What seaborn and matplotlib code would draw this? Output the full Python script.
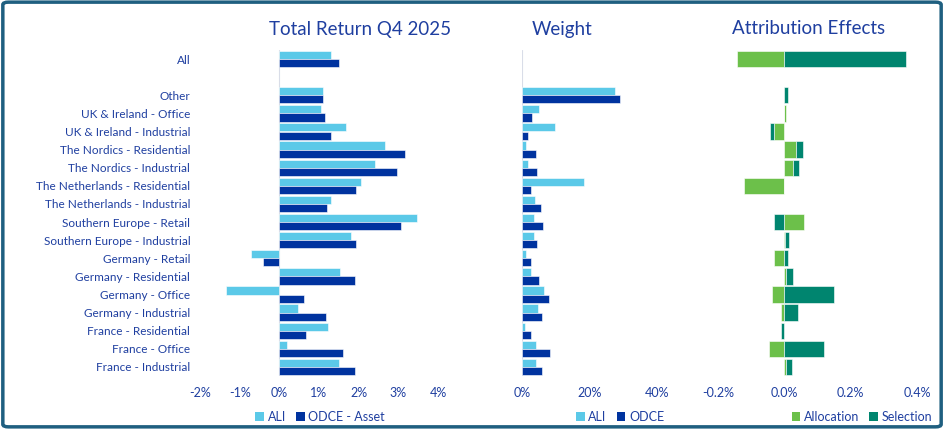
import numpy as np
import pandas as pd
import matplotlib
matplotlib.use("Agg")
import matplotlib.pyplot as plt
import seaborn as sns
from matplotlib.patches import FancyBboxPatch, Patch
from matplotlib.ticker import FuncFormatter

# categories, top to bottom ("" is the spacer row under All)
categories = ["All", "", "Other", "UK & Ireland - Office", "UK & Ireland - Industrial",
              "The Nordics - Residential", "The Nordics - Industrial",
              "The Netherlands - Residential", "The Netherlands - Industrial",
              "Southern Europe - Retail", "Southern Europe - Industrial",
              "Germany - Retail", "Germany - Residential", "Germany - Office",
              "Germany - Industrial", "France - Residential", "France - Office",
              "France - Industrial"]

# total return Q4 2025 (%)
ret_ali = [1.29, np.nan, 1.09, 1.05, 1.69, 2.66, 2.41, 2.05, 1.29, 3.47, 1.80,
           -0.71, 1.54, -1.34, 0.46, 1.23, 0.19, 1.50]
ret_odce = [1.50, np.nan, 1.10, 1.14, 1.29, 3.17, 2.96, 1.93, 1.20, 3.06, 1.94,
            -0.42, 1.90, 0.63, 1.18, 0.67, 1.60, 1.90]

# weights (%)
wgt_ali = [np.nan, np.nan, 27.6, 5.0, 9.8, 1.3, 1.9, 18.4, 3.8, 3.5, 3.5,
           1.3, 2.6, 6.5, 4.8, 1.0, 4.0, 4.2]
wgt_odce = [np.nan, np.nan, 29.0, 3.1, 1.9, 4.0, 4.3, 2.8, 5.6, 6.3, 4.5,
            2.8, 5.0, 8.0, 6.0, 2.6, 8.3, 6.0]

# attribution effects (%)
allocation = [-0.142, np.nan, -0.002, 0.004, -0.031, 0.035, 0.025, -0.121, 0.0,
              0.058, 0.003, -0.031, 0.005, -0.037, -0.010, -0.001, -0.045, 0.005]
selection = [0.366, np.nan, 0.011, 0.0, -0.013, 0.020, 0.020, 0.0, 0.0,
             -0.031, 0.012, 0.010, 0.020, 0.149, 0.040, -0.009, 0.121, 0.017]

TXT = "#1F3FA0"
C_ALI, C_ODCE = "#5BC9E8", "#00339F"
C_ALLOC, C_SEL = "#6CC04A", "#00856F"

sns.set_style("white")
plt.rcParams["font.family"] = ["Lato", "DejaVu Sans"]

ret = pd.DataFrame({"cat": categories * 2, "val": ret_ali + ret_odce,
                    "series": ["ALI"] * 18 + ["ODCE - Asset"] * 18})
wgt = pd.DataFrame({"cat": categories * 2, "val": wgt_ali + wgt_odce,
                    "series": ["ALI"] * 18 + ["ODCE"] * 18})

fig = plt.figure(figsize=(9.44, 4.29), dpi=100)
W, H = 944, 429
bot, top = 376, 50
def add_ax(x0, x1):
    return fig.add_axes([x0 / W, 1 - bot / H, (x1 - x0) / W, (bot - top) / H])

ax1 = add_ax(200, 438)
ax2 = add_ax(522, 657)
ax3 = add_ax(718, 917)

sns.barplot(data=ret, y="cat", x="val", hue="series", order=categories,
            palette=[C_ALI, C_ODCE], saturation=1, width=0.9, orient="h", ax=ax1,
            legend=False, edgecolor="white", linewidth=0.4)
sns.barplot(data=wgt, y="cat", x="val", hue="series", order=categories,
            palette=[C_ALI, C_ODCE], saturation=1, width=0.9, orient="h", ax=ax2,
            legend=False, edgecolor="white", linewidth=0.4)

# stacked attribution: positives stack right, negatives stack left
alloc = np.array(allocation)
sel = np.array(selection)
ypos = np.arange(len(categories))
sel_left = np.where(np.sign(sel) == np.sign(alloc), alloc, 0.0)
ax3.barh(ypos, alloc, height=0.9, color=C_ALLOC, edgecolor="white", linewidth=0.4)
ax3.barh(ypos, sel, left=sel_left, height=0.9, color=C_SEL, edgecolor="white", linewidth=0.4)
ax3.set_ylim(len(categories) - 0.5, -0.5)

ax1.set_xlim(-2, 4)
ax1.set_xticks(range(-2, 5))
ax1.xaxis.set_major_formatter(FuncFormatter(lambda v, p: f"{v:.0f}%"))
ax2.set_xlim(0, 40)
ax2.set_xticks([0, 20, 40])
ax2.xaxis.set_major_formatter(FuncFormatter(lambda v, p: f"{v:.0f}%"))
ax3.set_xlim(-0.2, 0.4)
ax3.set_xticks([-0.2, 0.0, 0.2, 0.4])
ax3.xaxis.set_major_formatter(FuncFormatter(lambda v, p: f"{v:.1f}%"))

for ax in (ax1, ax2, ax3):
    ax.set_xlabel("")
    ax.set_ylabel("")
    for s in ax.spines.values():
        s.set_visible(False)
    ax.tick_params(axis="x", length=0, pad=8, labelsize=9, labelcolor=TXT)
    ax.tick_params(axis="y", length=0)
    ax.set_facecolor("none")
for ax in (ax1, ax2):
    ax.axvline(0, color="#D9DDE8", lw=0.8, zorder=0)
ax1.tick_params(axis="y", labelsize=8.5, labelcolor=TXT, pad=7)
ax2.set_yticklabels([])
ax3.set_yticks([])

fig.text(360 / W, 1 - 29 / H, "Total Return Q4 2025", ha="center", va="center",
         fontsize=13.5, color=TXT)
fig.text(562 / W, 1 - 29 / H, "Weight", ha="center", va="center", fontsize=13.5, color=TXT)
fig.text(809 / W, 1 - 29 / H, "Attribution Effects", ha="center", va="center",
         fontsize=13.5, color=TXT)

def legend(names, colors, xc):
    handles = [Patch(facecolor=c, edgecolor="none") for c in colors]
    fig.legend(handles, names, loc="center", bbox_to_anchor=(xc / W, 1 - 417 / H),
               ncol=len(names), frameon=False, fontsize=9, labelcolor=TXT,
               handlelength=0.7, handleheight=0.7, handletextpad=0.3,
               columnspacing=0.8)

legend(["ALI", "ODCE - Asset"], [C_ALI, C_ODCE], 320)
legend(["ALI", "ODCE"], [C_ALI, C_ODCE], 620)
legend(["Allocation", "Selection"], [C_ALLOC, C_SEL], 862)

fig.patches.append(FancyBboxPatch((0.003, 0.005), 0.994, 0.99,
                                  boxstyle="round,pad=0,rounding_size=0.006",
                                  transform=fig.transFigure, fill=False,
                                  edgecolor="#1F5F80", linewidth=2.5))

fig.savefig("out.png", dpi=100)
